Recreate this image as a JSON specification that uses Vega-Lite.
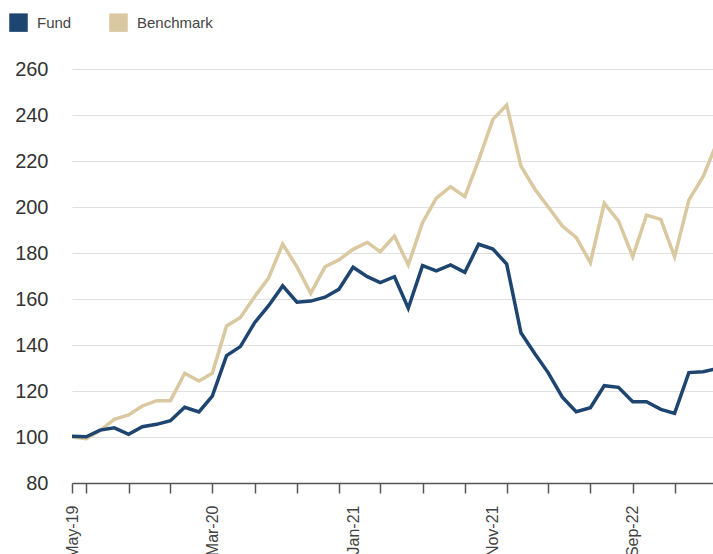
{
  "$schema": "https://vega.github.io/schema/vega-lite/v6.json",
  "width": 641,
  "height": 414,
  "autosize": {"type": "none"},
  "padding": {"left": 72, "top": 69, "right": 0, "bottom": 71},
  "background": "white",
  "config": {"view": {"stroke": null}, "font": "Liberation Sans"},
  "data": {
    "values": [
      {"date": "2019-05-01", "Fund": 100.3, "Benchmark": 100.0},
      {"date": "2019-06-01", "Fund": 100.1, "Benchmark": 99.3},
      {"date": "2019-07-01", "Fund": 103.0, "Benchmark": 102.8},
      {"date": "2019-08-01", "Fund": 104.0, "Benchmark": 107.7},
      {"date": "2019-09-01", "Fund": 101.2, "Benchmark": 109.6},
      {"date": "2019-10-01", "Fund": 104.5, "Benchmark": 113.5},
      {"date": "2019-11-01", "Fund": 105.5, "Benchmark": 115.8},
      {"date": "2019-12-01", "Fund": 107.1, "Benchmark": 115.8},
      {"date": "2020-01-01", "Fund": 112.9, "Benchmark": 127.7},
      {"date": "2020-02-01", "Fund": 110.9, "Benchmark": 124.3},
      {"date": "2020-03-01", "Fund": 117.8, "Benchmark": 127.7},
      {"date": "2020-04-01", "Fund": 135.4, "Benchmark": 148.3},
      {"date": "2020-05-01", "Fund": 139.3, "Benchmark": 152.0},
      {"date": "2020-06-01", "Fund": 149.7, "Benchmark": 161.0},
      {"date": "2020-07-01", "Fund": 157.0, "Benchmark": 169.0},
      {"date": "2020-08-01", "Fund": 165.7, "Benchmark": 183.9},
      {"date": "2020-09-01", "Fund": 158.6, "Benchmark": 174.0},
      {"date": "2020-10-01", "Fund": 159.1, "Benchmark": 162.5},
      {"date": "2020-11-01", "Fund": 160.8, "Benchmark": 174.0},
      {"date": "2020-12-01", "Fund": 164.2, "Benchmark": 177.0},
      {"date": "2021-01-01", "Fund": 173.8, "Benchmark": 181.6},
      {"date": "2021-02-01", "Fund": 169.7, "Benchmark": 184.6},
      {"date": "2021-03-01", "Fund": 167.1, "Benchmark": 180.6},
      {"date": "2021-04-01", "Fund": 169.7, "Benchmark": 187.4},
      {"date": "2021-05-01", "Fund": 156.0, "Benchmark": 174.8},
      {"date": "2021-06-01", "Fund": 174.5, "Benchmark": 193.2},
      {"date": "2021-07-01", "Fund": 172.2, "Benchmark": 203.8},
      {"date": "2021-08-01", "Fund": 174.8, "Benchmark": 208.8},
      {"date": "2021-09-01", "Fund": 171.6, "Benchmark": 204.5},
      {"date": "2021-10-01", "Fund": 183.8, "Benchmark": 220.4},
      {"date": "2021-11-01", "Fund": 181.7, "Benchmark": 238.1},
      {"date": "2021-12-01", "Fund": 175.2, "Benchmark": 244.3},
      {"date": "2022-01-01", "Fund": 145.3, "Benchmark": 217.8},
      {"date": "2022-02-01", "Fund": 136.0, "Benchmark": 207.5},
      {"date": "2022-03-01", "Fund": 128.0, "Benchmark": 200.1},
      {"date": "2022-04-01", "Fund": 117.3, "Benchmark": 191.7},
      {"date": "2022-05-01", "Fund": 111.0, "Benchmark": 186.8},
      {"date": "2022-06-01", "Fund": 112.7, "Benchmark": 175.8},
      {"date": "2022-07-01", "Fund": 122.3, "Benchmark": 201.6},
      {"date": "2022-08-01", "Fund": 121.6, "Benchmark": 194.0},
      {"date": "2022-09-01", "Fund": 115.3, "Benchmark": 178.4},
      {"date": "2022-10-01", "Fund": 115.3, "Benchmark": 196.5},
      {"date": "2022-11-01", "Fund": 112.0, "Benchmark": 194.6},
      {"date": "2022-12-01", "Fund": 110.3, "Benchmark": 178.4},
      {"date": "2023-01-01", "Fund": 128.0, "Benchmark": 203.0},
      {"date": "2023-02-01", "Fund": 128.4, "Benchmark": 213.2},
      {"date": "2023-03-01", "Fund": 129.6, "Benchmark": 227.0}
    ]
  },
  "transform": [{"fold": ["Fund", "Benchmark"], "as": ["series", "value"]}],
  "encoding": {
    "x": {
      "field": "date",
      "type": "temporal",
      "scale": {
        "type": "utc",
        "domain": [
          {"year": 2019, "month": 5, "date": 1, "utc": true},
          {"year": 2023, "month": 3, "date": 1, "utc": true}
        ],
        "range": [0, 644]
      },
      "axis": {
        "title": null,
        "grid": false,
        "values": [
          {"year": 2019, "month": 5, "date": 1, "utc": true},
          {"year": 2019, "month": 6, "date": 1, "utc": true},
          {"year": 2019, "month": 9, "date": 1, "utc": true},
          {"year": 2019, "month": 12, "date": 1, "utc": true},
          {"year": 2020, "month": 3, "date": 1, "utc": true},
          {"year": 2020, "month": 6, "date": 1, "utc": true},
          {"year": 2020, "month": 9, "date": 1, "utc": true},
          {"year": 2020, "month": 12, "date": 1, "utc": true},
          {"year": 2021, "month": 1, "date": 1, "utc": true},
          {"year": 2021, "month": 3, "date": 1, "utc": true},
          {"year": 2021, "month": 6, "date": 1, "utc": true},
          {"year": 2021, "month": 9, "date": 1, "utc": true},
          {"year": 2021, "month": 11, "date": 1, "utc": true},
          {"year": 2021, "month": 12, "date": 1, "utc": true},
          {"year": 2022, "month": 3, "date": 1, "utc": true},
          {"year": 2022, "month": 6, "date": 1, "utc": true},
          {"year": 2022, "month": 9, "date": 1, "utc": true},
          {"year": 2022, "month": 12, "date": 1, "utc": true}
        ],
        "labelExpr": "indexof(['May-19','Mar-20','Jan-21','Nov-21','Sep-22'], utcFormat(datum.value, '%b-%y')) >= 0 ? utcFormat(datum.value, '%b-%y') : ''",
        "labelAngle": -90,
        "labelFontSize": 16,
        "labelColor": "#444444",
        "labelPadding": 12,
        "labelOverlap": false,
        "labelBound": false,
        "labelFlush": false,
        "tickSize": 10,
        "tickColor": "#555555",
        "tickWidth": 1.5,
        "tickOpacity": {"condition": {"test": "utcmonth(datum.value) == 0 || utcmonth(datum.value) == 10", "value": 0}, "value": 1},
        "domainColor": "#555555",
        "domainWidth": 1.5,
        "zindex": 1
      }
    },
    "y": {
      "field": "value",
      "type": "quantitative",
      "scale": {"domain": [80, 260], "nice": false, "zero": false},
      "axis": {
        "title": null,
        "values": [80, 100, 120, 140, 160, 180, 200, 220, 240, 260],
        "domain": false,
        "ticks": false,
        "labelPadding": 24,
        "labelFontSize": 20,
        "labelColor": "#333333",
        "grid": true,
        "gridColor": "#e0e0e0",
        "gridWidth": 1.2
      }
    },
    "color": {
      "field": "series",
      "type": "nominal",
      "scale": {"domain": ["Fund", "Benchmark"], "range": ["#1e4570", "#d9c8a0"]},
      "legend": {
        "orient": "none",
        "legendX": -63,
        "legendY": -56,
        "direction": "horizontal",
        "title": null,
        "symbolType": "square",
        "symbolSize": 342,
        "labelFontSize": 15,
        "labelColor": "#444444",
        "labelOffset": 9,
        "columnPadding": 37,
        "padding": 0,
        "encode": {
          "symbols": {
            "update": {
              "fill": {"scale": "color", "field": "value"},
              "fillOpacity": {"value": 1},
              "strokeWidth": {"value": 0}
            }
          }
        }
      }
    }
  },
  "layer": [
    {
      "transform": [{"filter": "datum.series === 'Benchmark'"}],
      "mark": {"type": "line", "strokeWidth": 3.5, "clip": true}
    },
    {
      "transform": [{"filter": "datum.series === 'Fund'"}],
      "mark": {"type": "line", "strokeWidth": 3.5, "clip": true}
    }
  ]
}
